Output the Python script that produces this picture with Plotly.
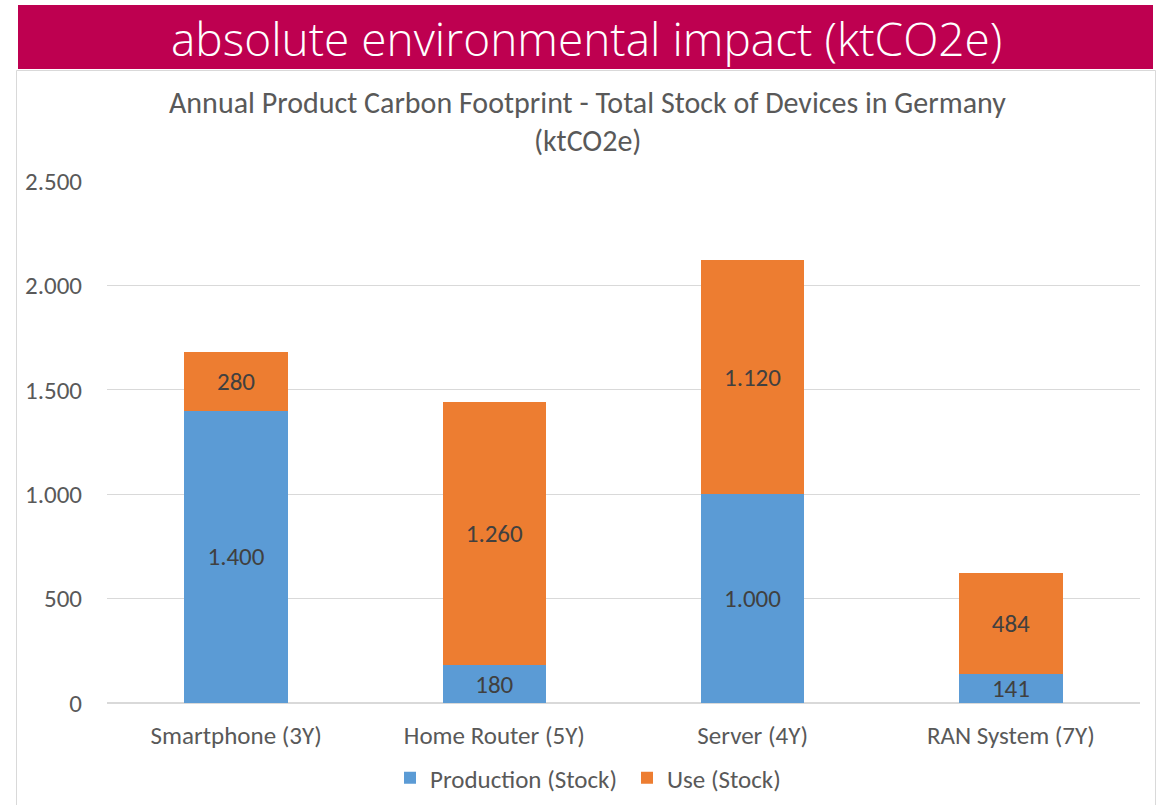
import plotly.graph_objects as go

# Annual product carbon footprint, total stock of devices in Germany (ktCO2e)
categories = ["Smartphone (3Y)", "Home Router (5Y)", "Server (4Y)", "RAN System (7Y)"]
production = [1400, 180, 1000, 141]
use = [280, 1260, 1120, 484]
y_ticks = [0, 500, 1000, 1500, 2000, 2500]


def de_num(v):
    """German thousands separator: 1400 -> '1.400'."""
    return f"{v:,}".replace(",", ".")


W, H = 1160, 805


def px_x(x):
    return x / W


def px_y(y):
    return 1 - y / H


FONT = "Carlito"
GREY = "#595959"
LABEL = "#404040"
GRID = "#D9D9D9"
BLUE = "#5B9BD5"
ORANGE = "#ED7D31"
BANNER = "#BE0050"

fig = go.Figure()

for name, vals, color in [("Production (Stock)", production, BLUE),
                          ("Use (Stock)", use, ORANGE)]:
    fig.add_trace(go.Bar(
        name=name,
        x=categories,
        y=vals,
        marker=dict(color=color, line=dict(width=0)),
        text=[de_num(v) for v in vals],
        texttemplate="%{text}",
        textposition="inside",
        insidetextanchor="middle",
        constraintext="none",
        textangle=0,
        textfont=dict(family=FONT, size=25, color=LABEL),
        hoverinfo="skip",
    ))

shapes = [
    # white card with light border holding the chart
    dict(type="rect", xref="paper", yref="paper",
         x0=px_x(16.5), x1=px_x(1155.5), y0=px_y(806), y1=px_y(70.5),
         line=dict(color=GRID, width=1), fillcolor="white", layer="below"),
    # heading banner
    dict(type="rect", xref="paper", yref="paper",
         x0=px_x(18), x1=px_x(1153), y0=px_y(69), y1=px_y(5),
         line=dict(width=0), fillcolor=BANNER, layer="below"),
]

annotations = [
    dict(text="absolute environmental impact (ktCO2e)", x=px_x(586), y=px_y(38),
         xref="paper", yref="paper", showarrow=False, xanchor="center", yanchor="middle",
         font=dict(family="Open Sans", size=46, weight=300, color="white")),
    dict(text="Annual Product Carbon Footprint - Total Stock of Devices in Germany",
         x=px_x(587), y=px_y(102), xref="paper", yref="paper", showarrow=False,
         xanchor="center", yanchor="middle",
         font=dict(family=FONT, size=30, color=GREY)),
    dict(text="(ktCO2e)", x=px_x(587), y=px_y(140), xref="paper", yref="paper",
         showarrow=False, xanchor="center", yanchor="middle",
         font=dict(family=FONT, size=30, color=GREY)),
]

fig.update_layout(
    width=W, height=H,
    margin=dict(l=0, r=0, t=0, b=0, autoexpand=False),
    paper_bgcolor="white",
    plot_bgcolor="rgba(0,0,0,0)",
    barmode="stack",
    bargap=0.6,
    shapes=shapes,
    annotations=annotations,
    showlegend=True,
    legend=dict(
        orientation="h",
        x=px_x(390), xanchor="left",
        y=px_y(778), yanchor="middle",
        font=dict(family=FONT, size=25, color=GREY),
        bgcolor="rgba(0,0,0,0)",
        entrywidth=192,
        traceorder="normal",
    ),
    xaxis=dict(
        domain=[px_x(107), px_x(1140)],
        automargin=False,
        showgrid=False, showline=False, zeroline=False,
        ticks="", ticklabelstandoff=15,
        tickfont=dict(family=FONT, size=25, color=GREY),
        fixedrange=True,
    ),
    yaxis=dict(
        domain=[px_y(703), px_y(181)],
        automargin=False,
        range=[0, 2500],
        tickvals=y_ticks,
        ticktext=[de_num(v) for v in y_ticks],
        showgrid=True, gridcolor=GRID, gridwidth=1,
        zeroline=True, zerolinecolor=GRID, zerolinewidth=1.5,
        showline=False, ticks="", ticklabelstandoff=24,
        tickfont=dict(family=FONT, size=25, color=GREY),
        fixedrange=True,
    ),
)

fig.write_html("out.html")
